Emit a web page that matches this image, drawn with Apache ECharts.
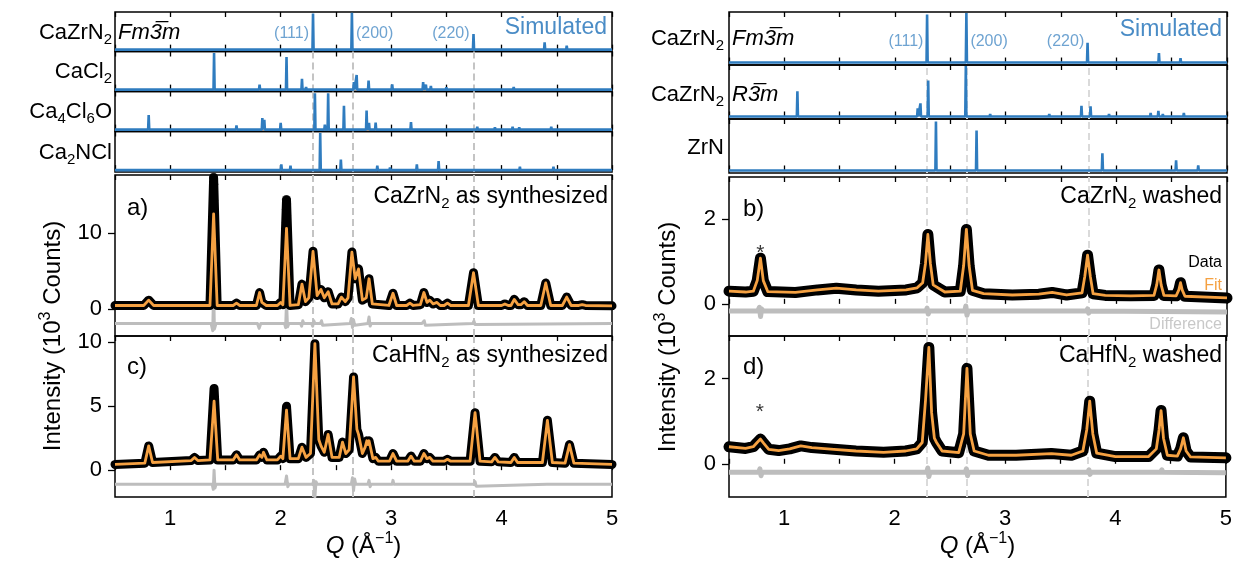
<!DOCTYPE html>
<html><head><meta charset="utf-8">
<script src="https://cdn.jsdelivr.net/npm/echarts@6/dist/echarts.min.js"></script>
<style>html,body{margin:0;padding:0;background:#fff}#c{width:1235px;height:564px}</style>
</head><body><div id="c"></div>
<script>
// ---------------- DATA ----------------
const xTicks = [1, 2, 3, 4, 5];
const refQ = [2.293, 2.645, 3.746];
const hklLabels = ['(111)', '(200)', '(220)'];

// simulated patterns [Q, relative intensity]
const simCaZrN2FmL = [[2.293,98],[2.645,100],[3.746,42],[4.39,20],[4.59,11]];
const simCaCl2 = [[1.397,98],[1.809,13],[2.053,87],[2.193,29],[2.23,7],[2.663,20],[2.688,39],[2.796,24],[3.01,14],[3.10,3],[3.17,3],[3.29,20],[3.315,13],[3.36,10],[3.50,6],[3.58,3],[3.73,4],[4.01,3],[4.11,7],[4.19,4],[4.40,3],[4.73,2]];
const simCa4Cl6O = [[0.805,39],[1.217,3],[1.397,2],[1.60,11],[1.834,31],[1.852,26],[2.0,18],[2.11,2],[2.31,97],[2.40,13],[2.43,97],[2.573,64],[2.778,51],[2.80,18],[2.86,19],[3.18,20],[3.32,5],[3.42,3],[3.47,3],[3.60,4],[3.64,4],[3.69,3],[3.78,8],[3.94,6],[4.10,8],[4.16,6],[4.23,4],[4.41,3],[4.45,8],[4.84,2],[4.95,2]];
const simCa2NCl = [[0.96,3],[2.006,15],[2.089,12],[2.358,98],[2.545,28],[2.875,12],[2.99,7],[3.233,15],[3.43,24],[4.02,4],[4.166,9],[4.47,9],[4.60,5]];
const simCaZrN2FmR = [[2.29,97],[2.645,100],[3.74,40],[4.385,19],[4.58,9]];
const simCaZrN2R3m = [[1.118,50],[2.205,16],[2.23,26],[2.30,71],[2.64,100],[2.86,5],[3.394,5],[3.685,21],[3.767,20],[3.934,5],[4.31,7],[4.38,11],[4.42,5],[4.47,3],[4.61,7],[4.73,2]];
const simZrN = [[2.37,97],[2.737,79],[3.874,34],[4.54,20],[4.74,10]];

// a) CaZrN2 as synthesized
const dataA = [[0.5,0.5],[0.76,0.5],[0.805,1.2],[0.85,0.5],[1.2,0.5],[1.36,0.5],[1.393,17.2],[1.425,0.5],[1.57,0.5],[1.60,0.8],[1.63,0.5],[1.78,0.5],[1.809,2.2],[1.83,0.9],[1.845,1.1],[1.87,0.5],[1.97,0.5],[2.0,0.9],[2.02,0.6],[2.053,14.3],[2.085,0.5],[2.16,0.6],[2.193,3.3],[2.225,1.0],[2.255,1.5],[2.293,7.6],[2.33,1.8],[2.365,2.6],[2.395,1.5],[2.43,2.3],[2.465,0.7],[2.52,0.7],[2.55,1.6],[2.585,1.0],[2.61,1.5],[2.645,7.5],[2.675,4.0],[2.705,5.3],[2.74,1.2],[2.775,1.5],[2.80,4.0],[2.83,0.7],[2.98,0.5],[3.017,2.1],[3.05,0.5],[3.14,0.5],[3.17,0.8],[3.2,0.5],[3.265,0.6],[3.297,2.2],[3.325,0.9],[3.35,1.2],[3.38,0.7],[3.415,0.9],[3.445,0.5],[3.48,0.5],[3.51,0.8],[3.54,0.5],[3.70,0.5],[3.746,4.8],[3.79,0.5],[4.0,0.5],[4.03,0.7],[4.06,0.5],[4.085,0.5],[4.115,1.3],[4.15,0.6],[4.175,0.6],[4.205,1.0],[4.235,0.5],[4.355,0.5],[4.40,3.45],[4.445,0.5],[4.55,0.5],[4.59,1.6],[4.63,0.5],[4.70,0.5],[4.73,0.6],[4.76,0.5],[5.0,0.45]];
const fitPeaksA = [[1.393,12.5],[2.053,10.6]];
const dotsA = [[1.392,17.3],[1.394,16.4],[1.392,15.4],[1.393,14.3],[1.392,13.2],[1.394,12.0],[1.392,10.8],[1.393,9.5],[1.392,8.1],[1.394,6.6],[1.393,5.0],[1.392,3.4],[2.052,14.4],[2.054,13.8],[2.052,13.1],[2.053,12.3],[2.052,11.4],[2.054,10.5]];
const diffA = [[0.5,-1.85],[1.37,-1.85],[1.385,-2.8],[1.393,2.7],[1.40,-2.6],[1.415,-1.85],[1.79,-1.85],[1.805,-2.5],[1.82,-1.85],[2.035,-1.85],[2.045,-2.4],[2.053,1.0],[2.062,-2.3],[2.075,-1.85],[2.18,-1.85],[2.19,-2.2],[2.2,-1.5],[2.21,-1.85],[2.28,-1.85],[2.29,-2.2],[2.3,-1.5],[2.31,-1.85],[2.36,-1.85],[2.37,-1.5],[2.38,-2.1],[2.39,-1.85],[2.63,-1.85],[2.64,-1.2],[2.65,-2.4],[2.66,-1.4],[2.67,-2.1],[2.68,-1.85],[2.79,-1.85],[2.80,-1.0],[2.81,-2.2],[2.82,-1.85],[3.28,-1.85],[3.30,-1.5],[3.31,-2.1],[3.32,-1.85],[3.74,-1.85],[3.75,-1.55],[3.76,-2.0],[3.77,-1.85],[5.0,-1.85]];

// c) CaHfN2 as synthesized
const dataC = [[0.5,0.45],[0.77,0.55],[0.805,1.9],[0.84,0.6],[1.19,0.75],[1.22,1.0],[1.25,0.75],[1.36,0.8],[1.397,6.4],[1.43,0.8],[1.57,0.8],[1.60,1.2],[1.63,0.8],[1.78,0.8],[1.81,1.2],[1.83,1.0],[1.845,1.4],[1.875,0.8],[1.97,0.8],[2.0,1.1],[2.02,0.9],[2.053,5.0],[2.085,0.9],[2.16,0.9],[2.193,1.8],[2.23,1.0],[2.27,1.3],[2.31,9.9],[2.345,2.4],[2.365,1.9],[2.395,1.4],[2.43,2.8],[2.465,1.0],[2.53,1.0],[2.56,2.2],[2.59,1.3],[2.62,1.6],[2.66,7.3],[2.69,3.2],[2.705,2.8],[2.74,1.3],[2.765,1.8],[2.78,2.3],[2.79,2.0],[2.80,2.3],[2.835,0.9],[2.86,1.0],[2.885,0.7],[2.985,0.7],[3.017,1.3],[3.05,0.7],[3.15,0.7],[3.18,1.1],[3.21,0.7],[3.265,0.7],[3.297,1.3],[3.325,0.9],[3.35,1.0],[3.38,0.7],[3.48,0.7],[3.51,0.85],[3.54,0.7],[3.715,0.7],[3.76,4.5],[3.805,0.7],[3.91,0.65],[3.94,1.0],[3.97,0.65],[4.085,0.6],[4.115,1.0],[4.145,0.6],[4.37,0.6],[4.415,3.9],[4.46,0.6],[4.575,0.55],[4.615,2.0],[4.655,0.55],[5.0,0.45]];
const fitPeaksC = [[1.397,5.4],[2.053,4.7]];
const diffC = [[0.5,-1.1],[1.38,-1.1],[1.39,-1.5],[1.397,0.0],[1.405,-1.4],[1.415,-1.1],[2.04,-1.1],[2.053,-0.45],[2.065,-1.3],[2.075,-1.1],[2.29,-1.1],[2.30,-0.8],[2.31,-2.1],[2.32,-0.9],[2.33,-1.1],[2.64,-1.1],[2.65,-0.6],[2.66,-1.6],[2.67,-0.7],[2.68,-1.1],[2.79,-1.1],[2.80,-0.8],[2.81,-1.3],[2.82,-1.1],[3.01,-1.1],[3.017,-0.8],[3.025,-1.1],[3.75,-1.1],[3.76,-0.9],[3.77,-1.25],[3.78,-1.1],[4.41,-1.1],[4.42,-0.95],[4.43,-1.1],[5.0,-1.1]];

// b) CaZrN2 washed
const dataB = [[0.5,0.30],[0.65,0.28],[0.72,0.30],[0.755,0.55],[0.784,1.08],[0.81,0.55],[0.85,0.29],[1.1,0.27],[1.3,0.33],[1.47,0.37],[1.65,0.33],[1.85,0.30],[2.1,0.33],[2.2,0.38],[2.25,0.5],[2.275,0.95],[2.297,1.64],[2.32,0.95],[2.345,0.45],[2.45,0.28],[2.59,0.3],[2.62,0.9],[2.645,1.76],[2.67,0.9],[2.70,0.32],[2.8,0.24],[3.06,0.21],[3.3,0.23],[3.42,0.27],[3.55,0.21],[3.69,0.26],[3.715,0.65],[3.74,1.15],[3.765,0.65],[3.79,0.24],[3.9,0.2],[4.13,0.19],[4.34,0.2],[4.365,0.45],[4.385,0.80],[4.405,0.45],[4.43,0.2],[4.54,0.19],[4.565,0.33],[4.58,0.50],[4.595,0.33],[4.62,0.18],[5.0,0.14]];
const diffB = [[0.5,-0.17],[0.76,-0.17],[0.775,-0.08],[0.785,-0.30],[0.795,-0.12],[0.81,-0.17],[2.28,-0.17],[2.29,-0.10],[2.30,-0.24],[2.31,-0.17],[2.63,-0.17],[2.64,-0.05],[2.65,-0.27],[2.66,-0.17],[3.73,-0.17],[3.74,-0.12],[3.75,-0.22],[3.76,-0.17],[5.0,-0.19]];
const starB = [[0.784,1.31]];

// d) CaHfN2 washed
const dataD = [[0.5,0.40],[0.65,0.36],[0.72,0.40],[0.755,0.5],[0.785,0.58],[0.815,0.48],[0.86,0.34],[0.95,0.31],[1.05,0.35],[1.15,0.42],[1.25,0.38],[1.45,0.34],[1.65,0.30],[1.9,0.27],[2.1,0.30],[2.2,0.35],[2.25,0.5],[2.28,1.5],[2.31,2.73],[2.335,1.2],[2.36,0.6],[2.38,0.5],[2.43,0.3],[2.58,0.26],[2.625,0.7],[2.655,2.24],[2.685,0.7],[2.72,0.3],[2.85,0.2],[3.1,0.2],[3.42,0.24],[3.6,0.2],[3.705,0.3],[3.74,0.8],[3.767,1.47],[3.795,0.7],[3.83,0.25],[4.0,0.17],[4.3,0.17],[4.37,0.35],[4.395,0.8],[4.413,1.25],[4.435,0.6],[4.47,0.2],[4.56,0.18],[4.59,0.35],[4.615,0.61],[4.64,0.3],[4.68,0.16],[5.0,0.14]];
const diffD = [[0.5,-0.2],[0.77,-0.2],[0.78,-0.12],[0.79,-0.28],[0.80,-0.2],[2.29,-0.2],[2.30,-0.1],[2.31,-0.3],[2.32,-0.2],[2.64,-0.2],[2.65,-0.12],[2.66,-0.28],[2.67,-0.2],[3.75,-0.2],[3.76,-0.14],[3.77,-0.25],[3.78,-0.2],[4.41,-0.2],[4.42,-0.14],[4.43,-0.2],[5.0,-0.21]];
const starD = [[0.78,1.32]];

// ---------------- STYLE ----------------
const FONT = '"Liberation Sans", Arial, Helvetica, sans-serif';
const BLUE = '#2f7cbf', BLUE_TXT = '#4a8cc6', ORANGE = '#f5a142', GRAY = '#bdbdbd';
const DASH_L = '#c4c4c4', DASH_R = '#dadada';

function sticks(peaks) {
  const pts = [[0.5, 0]];
  peaks.slice().sort((p, q) => p[0] - q[0]).forEach(([q, h]) => { pts.push([q - 0.005, 0], [q, h], [q + 0.005, 0]); });
  pts.push([5, 0]);
  return pts;
}
function withPeaks(data, peaks) {
  return data.map(p => { const o = peaks.find(k => k[0] === p[0]); return o ? [p[0], o[1]] : p; });
}

const grids = [], xAxes = [], yAxes = [], series = [];
const rich = {
  s: { fontSize: 15, lineHeight: 14, verticalAlign: 'bottom', fontFamily: FONT },
  i: { fontStyle: 'italic', fontFamily: FONT },
  sup: { fontSize: 16, lineHeight: 14, verticalAlign: 'top', fontFamily: FONT }
};

function addPanel(box, yr, opt) {
  const gi = grids.length;
  grids.push({ left: box.left, width: box.width, top: box.top, height: box.height, show: true, borderColor: '#000', borderWidth: 1.5, backgroundColor: 'transparent' });
  const base = { type: 'value', gridIndex: gi, min: 0.5, max: 5, interval: 0.5, splitLine: { show: false }, axisLine: { show: false },
    axisTick: { show: true, inside: true, length: 5, lineStyle: { color: '#000', width: 1.3 } } };
  const xb = Object.assign({}, base, { position: 'bottom', axisLabel: { show: false } });
  if (opt.xlabels) {
    xb.axisLabel = { show: true, interval: 0, showMaxLabel: true, showMinLabel: true, margin: 11, fontSize: 22, color: '#000', fontFamily: FONT,
      formatter: v => (xTicks.indexOf(Math.round(v * 100) / 100) >= 0 ? String(Math.round(v)) : '') };
    xb.name = '{i|Q} (Å{sup|−1})';
    xb.nameLocation = 'middle';
    xb.nameGap = 25;
    xb.nameTextStyle = { fontSize: 24, lineHeight: 30, color: '#000', fontFamily: FONT, rich: { i: { fontStyle: 'italic', fontSize: 24, fontFamily: FONT }, sup: { fontSize: 16, lineHeight: 14, verticalAlign: 'top', fontFamily: FONT } } };
  }
  xAxes.push(xb);
  xAxes.push(Object.assign({}, base, { position: 'top', axisLabel: { show: false } }));
  const ya = { type: 'value', gridIndex: gi, min: yr[0], max: yr[1], splitLine: { show: false }, axisLine: { show: false }, axisTick: { show: false }, axisLabel: { show: false } };
  if (opt.yticks) {
    ya.axisTick = { show: true, inside: false, length: 7, customValues: opt.yticks, lineStyle: { color: '#000', width: 1.3 } };
    ya.axisLabel = { show: true, customValues: opt.yticks, fontSize: 22, color: '#000', margin: 13, fontFamily: FONT };
  }
  yAxes.push(ya);
  return gi;
}
function dashMark(color) {
  return { silent: true, z: 1, symbol: 'none', label: { show: false }, animation: false,
    lineStyle: { type: [7, 4], color: color, width: 2 }, data: refQ.map(q => ({ xAxis: q })) };
}
function addSim(gi, peaks, dashColor) {
  const s = { type: 'line', xAxisIndex: 2 * gi, yAxisIndex: gi, data: sticks(peaks), showSymbol: false, z: 2,
    lineStyle: { color: BLUE, width: 2.6 }, animation: false };
  if (dashColor) s.markLine = dashMark(dashColor);
  series.push(s);
}
function addData(gi, data, fit, diff, dashColor, dataW, diffW) {
  series.push({ type: 'line', xAxisIndex: 2 * gi, yAxisIndex: gi, data: diff, showSymbol: false, z: 2, lineStyle: { color: GRAY, width: diffW, join: 'round' }, animation: false });
  series.push({ type: 'line', xAxisIndex: 2 * gi, yAxisIndex: gi, data: data, showSymbol: false, z: 3, lineStyle: { color: '#000', width: dataW, join: 'round', cap: 'round' }, animation: false, markLine: dashMark(dashColor) });
  series.push({ type: 'line', xAxisIndex: 2 * gi, yAxisIndex: gi, data: fit, showSymbol: false, z: 5, lineStyle: { color: ORANGE, width: 2.8, join: 'round' }, animation: false });
}

const LB = { left: 115, width: 497 }, RB = { left: 729, width: 498 };
const box = (c, top, h) => ({ left: c.left, width: c.width, top: top, height: h });
const SIMR = [-5, 102];

const gS1 = addPanel(box(LB, 12, 39.5), SIMR, {});
const gS2 = addPanel(box(LB, 51.5, 40), SIMR, {});
const gS3 = addPanel(box(LB, 91.5, 40), SIMR, {});
const gS4 = addPanel(box(LB, 131.5, 40.5), SIMR, {});
const gA = addPanel(box(LB, 175, 161), [-3.5, 17.6], { yticks: [0, 10] });
const gC = addPanel(box(LB, 336, 161), [-2.1, 10.5], { yticks: [0, 5, 10], xlabels: true });
const gR1 = addPanel(box(RB, 12, 53), SIMR, {});
const gR2 = addPanel(box(RB, 65, 54), SIMR, {});
const gR3 = addPanel(box(RB, 119, 54), SIMR, {});
const gB = addPanel(box(RB, 177, 159), [-0.76, 3.0], { yticks: [0, 2] });
const gD = addPanel(box(RB, 336, 161), [-0.78, 3.0], { yticks: [0, 2], xlabels: true });

// invisible grids carrying the shared y titles
function addTitleGrid(c, top, h, gap) {
  const gi = grids.length;
  grids.push({ left: c.left, width: c.width, top: top, height: h, show: false });
  xAxes.push({ type: 'value', gridIndex: gi, show: false, min: 0, max: 1 });
  xAxes.push({ type: 'value', gridIndex: gi, show: false, min: 0, max: 1 });
  yAxes.push({ type: 'value', gridIndex: gi, min: 0, max: 1, axisLine: { show: false }, axisTick: { show: false }, axisLabel: { show: false }, splitLine: { show: false },
    name: 'Intensity (10{sup|3} Counts)', nameLocation: 'middle', nameGap: gap,
    nameTextStyle: { fontSize: 24, lineHeight: 30, color: '#000', fontFamily: FONT, rich: { sup: { fontSize: 16, lineHeight: 14, verticalAlign: 'top', fontFamily: FONT } } } });
}
addTitleGrid(LB, 175, 322, 47);
addTitleGrid(RB, 177, 320, 46);

addSim(gS1, simCaZrN2FmL, null);
addSim(gS2, simCaCl2, DASH_L);
addSim(gS3, simCa4Cl6O, DASH_L);
addSim(gS4, simCa2NCl, DASH_L);
addSim(gR1, simCaZrN2FmR, null);
addSim(gR2, simCaZrN2R3m, DASH_R);
addSim(gR3, simZrN, DASH_R);

addData(gA, dataA, withPeaks(dataA, fitPeaksA), diffA, DASH_L, 9, 3);
series.push({ type: 'scatter', xAxisIndex: 2 * gA, yAxisIndex: gA, data: dotsA, symbol: 'circle', symbolSize: 9, itemStyle: { color: '#000' }, z: 4, animation: false });
addData(gC, dataC, withPeaks(dataC, fitPeaksC), diffC, DASH_L, 9, 3);
addData(gB, dataB, dataB, diffB, DASH_R, 11, 5);
addData(gD, dataD, dataD, diffD, DASH_R, 11, 5);

// hkl labels on the top simulated panels
function hkl(gi, yv) {
  const pos = ['left', 'right', 'left'];
  refQ.forEach((q, k) => {
    series.push({ type: 'scatter', xAxisIndex: 2 * gi, yAxisIndex: gi, data: [[q, yv]], symbolSize: 0, z: 6, silent: true, animation: false,
      label: { show: true, position: pos[k], distance: 4, formatter: hklLabels[k], fontSize: 16, color: BLUE_TXT, fontFamily: FONT } });
  });
}
hkl(gS1, 43);
hkl(gR1, 43);
// stars
[[gB, starB], [gD, starD]].forEach(([gi, d]) => {
  series.push({ type: 'scatter', xAxisIndex: 2 * gi, yAxisIndex: gi, data: d, symbolSize: 0, z: 6, silent: true, animation: false,
    label: { show: true, position: 'inside', offset: [0, 5], formatter: '*', fontSize: 21, color: '#000', fontFamily: FONT } });
});

// text blocks
const W = 1235;
function T(text, pos, extra) {
  return Object.assign({ text: text, padding: 0, itemGap: 0,
    textStyle: Object.assign({ fontFamily: FONT, fontSize: 23, fontWeight: 'normal', color: '#000', lineHeight: 28, rich: rich }, extra || {}) }, pos);
}
const titles = [
  T('CaZrN{s|2}', { right: W - 112, top: 19 }, { fontSize: 22 }),
  T('{i|Fm3\u0305m}', { left: 118, top: 19 }, { fontSize: 22 }),
  T('CaCl{s|2}', { right: W - 112, top: 58 }, { fontSize: 22 }),
  T('Ca{s|4}Cl{s|6}O', { right: W - 112, top: 98 }, { fontSize: 22 }),
  T('Ca{s|2}NCl', { right: W - 112, top: 139 }, { fontSize: 22 }),
  T('Simulated', { right: W - 607, top: 14 }, { fontSize: 23, color: BLUE_TXT }),
  T('a)', { left: 127, top: 194 }, { fontSize: 24 }),
  T('CaZrN{s|2} as synthesized', { right: W - 608, top: 183 }),
  T('c)', { left: 127, top: 353 }, { fontSize: 24 }),
  T('CaHfN{s|2} as synthesized', { right: W - 608, top: 342 }),
  T('CaZrN{s|2}', { right: W - 724, top: 25 }, { fontSize: 22 }),
  T('{i|Fm3\u0305m}', { left: 732, top: 25 }, { fontSize: 22 }),
  T('CaZrN{s|2}', { right: W - 724, top: 81 }, { fontSize: 22 }),
  T('{i|R3\u0305m}', { left: 732, top: 81 }, { fontSize: 22 }),
  T('ZrN', { right: W - 724, top: 134 }, { fontSize: 22 }),
  T('Simulated', { right: W - 1222, top: 16 }, { fontSize: 23, color: BLUE_TXT }),
  T('b)', { left: 743, top: 195 }, { fontSize: 24 }),
  T('CaZrN{s|2} washed', { right: W - 1222, top: 183 }),
  T('d)', { left: 743, top: 353 }, { fontSize: 24 }),
  T('CaHfN{s|2} washed', { right: W - 1222, top: 342 }),
  T('Data', { right: W - 1222, top: 253 }, { fontSize: 16, lineHeight: 20 }),
  T('Fit', { right: W - 1222, top: 276 }, { fontSize: 16, lineHeight: 20, color: ORANGE }),
  T('Difference', { right: W - 1222, top: 315 }, { fontSize: 16, lineHeight: 20, color: '#c8c8c8' })
];

const chart = echarts.init(document.getElementById('c'), null, { renderer: 'canvas' });
chart.setOption({
  animation: false,
  backgroundColor: '#fff',
  textStyle: { fontFamily: FONT },
  title: titles,
  grid: grids,
  xAxis: xAxes,
  yAxis: yAxes,
  series: series
});
</script></body></html>
